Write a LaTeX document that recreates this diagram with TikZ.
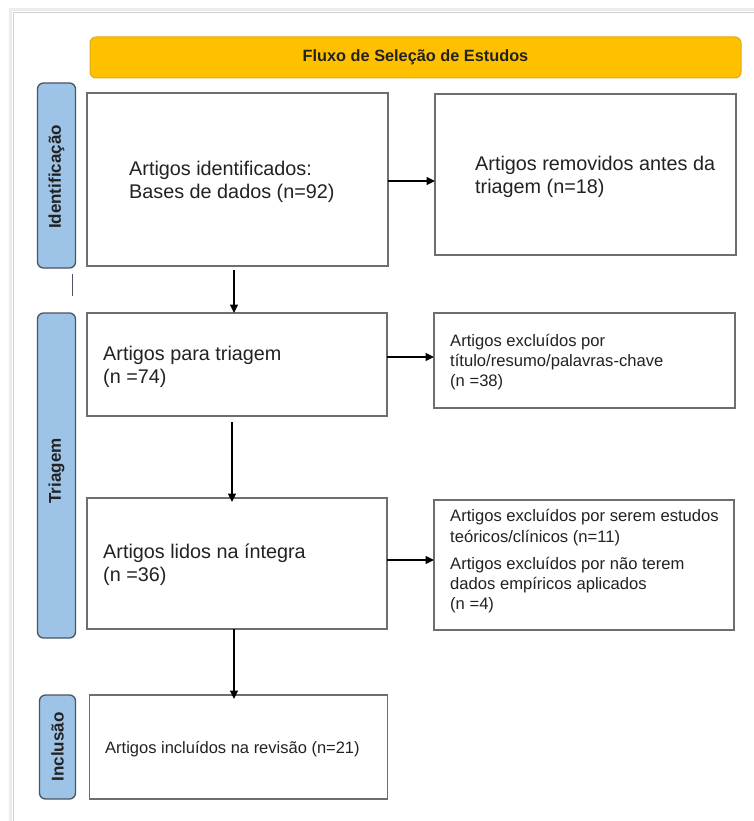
\documentclass[tikz,border=0pt]{standalone}
\usepackage{fontspec}
\setmainfont{Liberation Sans}
\usetikzlibrary{arrows.meta,calc}
\definecolor{hdrfill}{HTML}{FFC000}
\definecolor{hdrdraw}{HTML}{E3AA10}
\definecolor{phasefill}{HTML}{9DC3E6}
\definecolor{phasedraw}{HTML}{4A5560}
\definecolor{boxdraw}{HTML}{6E6E6E}
\definecolor{txt}{HTML}{222222}
\tikzset{
  box/.style={draw=boxdraw, line width=1.4pt, fill=white, inner sep=0pt, outer sep=0pt},
  phase/.style={draw=phasedraw, line width=1.3pt, fill=phasefill, rounded corners=6pt, inner sep=0pt, outer sep=0pt},
  phasetxt/.style={rotate=90, text=txt, font=\bfseries\fontsize{17}{20}\selectfont, inner sep=0pt},
  bigtxt/.style={anchor=west, align=left, text=txt, inner sep=0pt, font=\fontsize{19.8}{23}\selectfont},
  smalltxt/.style={anchor=west, align=left, text=txt, inner sep=0pt, font=\fontsize{16.6}{20.2}\selectfont},
  arr/.style={draw=black, line width=1.1pt, -{Triangle[length=8.5pt,width=8pt]}}
}
\begin{document}
\begin{tikzpicture}[x=1pt,y=-1pt]
\useasboundingbox (0,0) rectangle (753,821);
\fill[white] (0,0) rectangle (753,821);
% outer frame with faint shadow
\draw[gray!15, line width=3pt] (10,840) -- (10,10) -- (760,10);
\draw[gray!35, line width=1pt] (13,840) -- (13,12.5) -- (760,12.5);
% header
\node[draw=hdrdraw, fill=hdrfill, line width=1pt, rounded corners=6pt, minimum width=651pt, minimum height=41pt, inner sep=0pt] (hdr) at (415.5,57.5) {};
\node[text=txt, font=\bfseries\fontsize{16.3}{19}\selectfont, inner sep=0pt] (hdrt) at (hdr.center) {Fluxo de Seleção de Estudos};
% phase labels
\node[phase, minimum width=38pt, minimum height=185pt] (pid) at (56.5,175.5) {};
\node[phasetxt] (pidt) at (56.5,177) {Identificação};
\node[phase, minimum width=38pt, minimum height=325pt] (ptr) at (56.5,475.5) {};
\node[phasetxt] (ptrt) at (56.5,471) {Triagem};
\node[phase, minimum width=36pt, minimum height=104pt] (pin) at (57.5,747) {};
\node[phasetxt] (pint) at (57.5,747) {Inclusão};
\draw[phasedraw, line width=1pt] (72.5,274) -- (72.5,296);
% boxes
\node[box, minimum width=301pt, minimum height=173pt] (b1) at (237.5,179.5) {};
\node[bigtxt] (t1) at (129,181.5) {Artigos identificados:\\Bases de dados (n=92)};
\node[box, minimum width=301pt, minimum height=161pt] (b2) at (585.5,174.5) {};
\node[bigtxt] (t2) at (475,177) {Artigos removidos antes da\\triagem (n=18)};
\node[box, minimum width=300pt, minimum height=103pt] (b3) at (237,364.5) {};
\node[bigtxt] (t3) at (103,367) {Artigos para triagem\\(n =74)};
\node[box, minimum width=301pt, minimum height=95pt] (b5) at (584.5,360.5) {};
\node[smalltxt] (t5) at (450,362) {Artigos excluídos por\\título/resumo/palavras-chave\\(n =38)};
\node[box, minimum width=300pt, minimum height=131pt] (b4) at (237,563.5) {};
\node[bigtxt] (t4) at (103,565) {Artigos lidos na íntegra\\(n =36)};
\node[box, minimum width=300pt, minimum height=130pt] (b6) at (584,565) {};
\node[smalltxt] (t6) at (450,561.5) {Artigos excluídos por serem estudos\\teóricos/clínicos (n=11)\\[7pt]Artigos excluídos por não terem\\dados empíricos aplicados\\(n =4)};
\node[box, minimum width=298pt, minimum height=104pt] (b7) at (238.5,747) {};
\node[text=txt, inner sep=0pt, anchor=west, font=\fontsize{16.5}{20}\selectfont] (t7) at (105,749) {Artigos incluídos na revisão (n=21)};
% connectors
\draw[arr] ([yshift=-1.5pt]b1.east) -- ([yshift=-1.5pt]b1.east -| b2.west);
\draw[arr] ([xshift=-3.5pt,yshift=-4pt]b1.south) -- ([xshift=-3pt]b3.north);
\draw[arr] ([yshift=7.5pt]b3.east) -- ([yshift=7.5pt]b3.east -| b5.west);
\draw[arr] ([xshift=-5pt,yshift=-6pt]b3.south) -- ([xshift=-5pt,yshift=-4pt]b4.north);
\draw[arr] ([yshift=3.5pt]b4.east) -- ([yshift=3.5pt]b4.east -| b6.west);
\draw[arr] ([xshift=-3pt]b4.south) -- ([xshift=-4.5pt,yshift=-4pt]b7.north);
\end{tikzpicture}
\end{document}
